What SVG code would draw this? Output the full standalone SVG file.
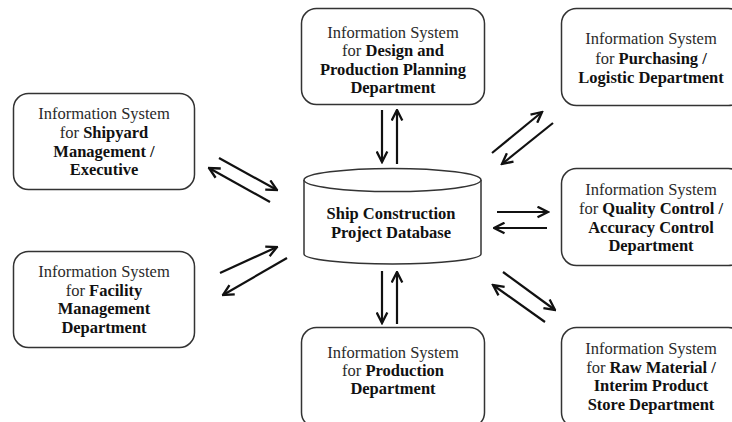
<svg xmlns="http://www.w3.org/2000/svg" width="732" height="422" viewBox="0 0 732 422">
  <defs>
    <style>
      .box { fill: #ffffff; stroke: #333333; stroke-width: 1.5; }
      .db { fill: #ffffff; stroke: #333333; stroke-width: 1.5; }
      .t { font-family: "Liberation Serif", "Times New Roman", serif; font-size: 16.5px; fill: #2a2a2a; text-anchor: middle; }
      .b { font-weight: bold; fill: #111111; }
      .arr { stroke: #111111; stroke-width: 2.2; fill: none; marker-end: url(#head); }
    </style>
    <marker id="head" viewBox="0 0 13 13" refX="11.5" refY="6.5" markerWidth="13" markerHeight="13" markerUnits="userSpaceOnUse" orient="auto">
      <path d="M1,1.2 L11.5,6.5 L1,11.8" fill="none" stroke="#111111" stroke-width="2.3" stroke-linejoin="miter"/>
    </marker>
  </defs>
  <rect width="732" height="422" fill="#ffffff"/>

  <!-- central database cylinder -->
  <g id="database">
    <path class="db" d="M304,180 L304,254 A88.5,10 0 0 0 481,254 L481,180"/>
    <ellipse class="db" cx="392.5" cy="180" rx="88.5" ry="11.5"/>
    <text class="t b" x="391" y="219">Ship Construction</text>
    <text class="t b" x="391" y="238">Project Database</text>
  </g>

  <g id="shipyard">
    <rect class="box" x="13.5" y="93.5" width="181" height="96" rx="15"/>
    <text class="t" x="104" y="119">Information System</text>
    <text class="t" x="104" y="138">for <tspan class="b">Shipyard</tspan></text>
    <text class="t b" x="104" y="156.5">Management /</text>
    <text class="t b" x="104" y="175">Executive</text>
  </g>

  <g id="facility">
    <rect class="box" x="13.5" y="251.5" width="181" height="96" rx="15"/>
    <text class="t" x="104" y="277">Information System</text>
    <text class="t" x="104" y="295.5">for <tspan class="b">Facility</tspan></text>
    <text class="t b" x="104" y="314">Management</text>
    <text class="t b" x="104" y="332.5">Department</text>
  </g>

  <g id="design">
    <rect class="box" x="301.5" y="8.5" width="183" height="96" rx="15"/>
    <text class="t" x="393" y="37.5">Information System</text>
    <text class="t" x="393" y="56">for <tspan class="b">Design and</tspan></text>
    <text class="t b" x="393" y="74.5">Production Planning</text>
    <text class="t b" x="393" y="93">Department</text>
  </g>

  <g id="production">
    <rect class="box" x="301.5" y="327.5" width="183" height="100" rx="15"/>
    <text class="t" x="393" y="357.5">Information System</text>
    <text class="t" x="393" y="375.5">for <tspan class="b">Production</tspan></text>
    <text class="t b" x="393" y="394">Department</text>
  </g>

  <g id="purchasing">
    <rect class="box" x="561.5" y="8.5" width="182" height="97" rx="15"/>
    <text class="t" x="651" y="43.5">Information System</text>
    <text class="t" x="651" y="63.5">for <tspan class="b">Purchasing /</tspan></text>
    <text class="t b" x="651" y="82.5">Logistic Department</text>
  </g>

  <g id="quality">
    <rect class="box" x="561.5" y="168.5" width="182" height="97" rx="15"/>
    <text class="t" x="651" y="194.5">Information System</text>
    <text class="t" x="651" y="213.5">for <tspan class="b">Quality Control /</tspan></text>
    <text class="t b" x="651" y="232.5">Accuracy Control</text>
    <text class="t b" x="651" y="251">Department</text>
  </g>

  <g id="rawmaterial">
    <rect class="box" x="561.5" y="327.5" width="182" height="100" rx="15"/>
    <text class="t" x="651" y="353.5">Information System</text>
    <text class="t" x="651" y="372.5">for <tspan class="b">Raw Material /</tspan></text>
    <text class="t b" x="651" y="391">Interim Product</text>
    <text class="t b" x="651" y="409.5">Store Department</text>
  </g>

  <!-- paired data-flow arrows between the database and each system -->
  <g id="connectors">
    <line class="arr" x1="382" y1="110" x2="382" y2="162"/>
    <line class="arr" x1="397" y1="164" x2="397" y2="110"/>
    <line class="arr" x1="382" y1="271" x2="382" y2="323"/>
    <line class="arr" x1="397" y1="324" x2="397" y2="272"/>

    <line class="arr" x1="219" y1="158" x2="277" y2="190"/>
    <line class="arr" x1="270" y1="202" x2="209" y2="168"/>

    <line class="arr" x1="220" y1="273" x2="277" y2="247"/>
    <line class="arr" x1="287" y1="258" x2="223" y2="295"/>

    <line class="arr" x1="492" y1="153" x2="542" y2="112"/>
    <line class="arr" x1="553" y1="123" x2="502" y2="164"/>

    <line class="arr" x1="497" y1="212" x2="548" y2="212"/>
    <line class="arr" x1="547" y1="228" x2="494" y2="228"/>

    <line class="arr" x1="503" y1="272" x2="555" y2="310"/>
    <line class="arr" x1="545" y1="322" x2="493" y2="285"/>
  </g>
</svg>
